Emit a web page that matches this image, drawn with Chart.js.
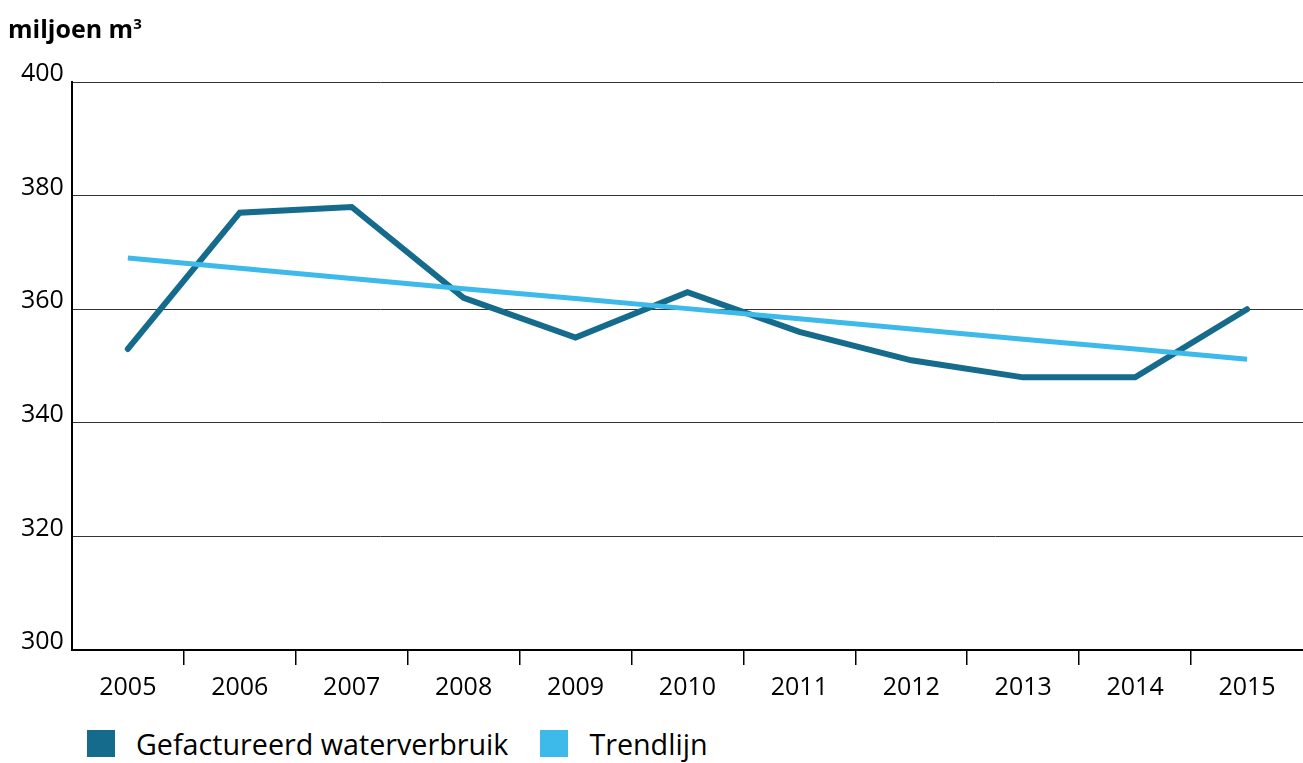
<!DOCTYPE html>
<html>
<head>
<meta charset="utf-8">
<script src="https://cdn.jsdelivr.net/npm/chart.js@4"></script>
<style>
  body { margin: 0; background: #fff; font-family: 'Open Sans', sans-serif; }
  #wrap { position: relative; width: 1303px; height: 763px; }
  #title { position: absolute; left: 8px; top: 11px; font-weight: 700; font-size: 25px; color: #000; }
  #title sup { font-size: 15px; }
  #chartBox { position: absolute; left: 0; top: 0; width: 1303px; height: 711px; }
  #legend { position: absolute; left: 87px; top: 724px; display: flex; align-items: center; font-size: 28.7px; color: #000; }
  .sw { width: 28px; height: 27px; display: inline-block; margin-right: 21px; }
  .item { display: flex; align-items: center; margin-right: 32px; }
</style>
</head>
<body>
<div id="wrap">
  <div id="chartBox"><canvas id="waterChart"></canvas></div>
  <div id="title">miljoen m<sup>3</sup></div>
  <div id="legend"></div>
</div>
<script>
// Data
const years = ['2005', '2006', '2007', '2008', '2009', '2010', '2011', '2012', '2013', '2014', '2015'];
const waterUse = [353, 377, 378, 362, 355, 363, 356, 351, 348, 348, 360];
const trendLine = [369.0, 367.2, 365.4, 363.6, 361.9, 360.1, 358.3, 356.5, 354.7, 353.0, 351.2];
const seriesNames = ['Gefactureerd waterverbruik', 'Trendlijn'];
const yTicks = [300, 320, 340, 360, 380, 400];

const darkBlue = '#156b8b';
const lightBlue = '#3db9ea';
const tickFont = { family: 'Open Sans', size: 25 };

// Simple HTML legend, matches the square swatches of the original
const legend = document.getElementById('legend');
[[seriesNames[0], darkBlue], [seriesNames[1], lightBlue]].forEach(([name, color]) => {
    const item = document.createElement('div');
    item.className = 'item';
    item.innerHTML = '<span class="sw" style="background:' + color + '"></span><span>' + name + '</span>';
    legend.appendChild(item);
});

new Chart(document.getElementById('waterChart'), {
    type: 'line',
    data: {
        labels: years,
        datasets: [{
            label: seriesNames[0],
            data: waterUse,
            borderColor: darkBlue,
            borderWidth: 6,
            borderCapStyle: 'round',
            borderJoinStyle: 'miter',
            pointRadius: 0,
            tension: 0,
            order: 1
        }, {
            label: seriesNames[1],
            data: trendLine,
            borderColor: lightBlue,
            borderWidth: 5,
            borderCapStyle: 'butt',
            pointRadius: 0,
            tension: 0,
            order: 0
        }]
    },
    options: {
        responsive: true,
        maintainAspectRatio: false,
        animation: false,
        layout: { padding: { top: 82, left: 13, right: 0, bottom: 0 } },
        plugins: {
            legend: { display: false },
            tooltip: { enabled: false }
        },
        scales: {
            x: {
                offset: true,
                grid: {
                    offset: true,
                    drawOnChartArea: false,
                    drawTicks: true,
                    tickLength: 15,
                    lineWidth: 1.5,
                    // only the tick marks between the years
                    color: ctx => (ctx.type === 'tick' && ctx.index > 0) ? '#000' : 'rgba(0,0,0,0)'
                },
                border: { display: true, color: '#000', width: 2 },
                ticks: { font: tickFont, color: '#000', padding: 8, maxRotation: 0 }
            },
            y: {
                min: 300,
                max: 400,
                afterBuildTicks: scale => { scale.ticks = yTicks.map(v => ({ value: v })); },
                grid: {
                    drawTicks: false,
                    color: '#333',
                    lineWidth: 1
                },
                border: { display: true, color: '#000', width: 2 },
                ticks: { font: tickFont, color: '#000', padding: 8, labelOffset: -8 }
            }
        }
    }
});
</script>
</body>
</html>
